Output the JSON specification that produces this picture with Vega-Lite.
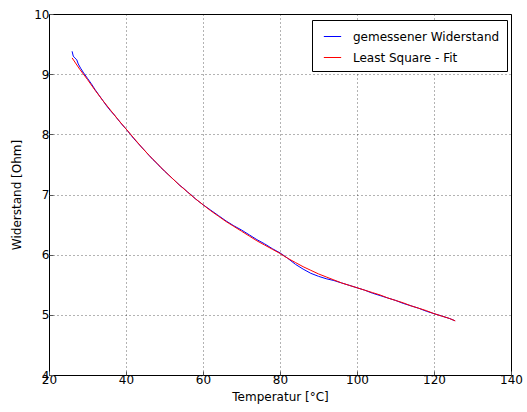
{
  "$schema": "https://vega.github.io/schema/vega-lite/v6.json",
  "autosize": {"type": "none"},
  "width": 462,
  "height": 361,
  "padding": {"left": 49, "top": 14, "right": 16, "bottom": 37},
  "background": "white",
  "config": {
    "font": "DejaVu Sans",
    "view": {"stroke": "black", "strokeWidth": 1},
    "axis": {
      "labelFont": "DejaVu Sans", "labelFontSize": 12, "labelColor": "black",
      "titleFont": "DejaVu Sans", "titleFontSize": 12, "titleFontWeight": "normal", "titleColor": "black",
      "grid": true, "gridColor": "black", "gridOpacity": 0.6, "gridDash": [1, 3], "gridWidth": 1,
      "domain": false, "ticks": true, "tickSize": -4, "tickColor": "#555", "labelPadding": 3,
      "labelFlush": false, "labelOverlap": false
    }
  },
  "data": {"values": [
    {"T": 26.0, "R": 9.38, "s": "gemessener Widerstand"},
    {"T": 26.3, "R": 9.30, "s": "gemessener Widerstand"},
    {"T": 26.7, "R": 9.27, "s": "gemessener Widerstand"},
    {"T": 27.2, "R": 9.24, "s": "gemessener Widerstand"},
    {"T": 27.6, "R": 9.17, "s": "gemessener Widerstand"},
    {"T": 28.2, "R": 9.10, "s": "gemessener Widerstand"},
    {"T": 29, "R": 9.02, "s": "gemessener Widerstand"},
    {"T": 30, "R": 8.93, "s": "gemessener Widerstand"},
    {"T": 31, "R": 8.84, "s": "gemessener Widerstand"},
    {"T": 32, "R": 8.74, "s": "gemessener Widerstand"},
    {"T": 33, "R": 8.65, "s": "gemessener Widerstand"},
    {"T": 34, "R": 8.56, "s": "gemessener Widerstand"},
    {"T": 35, "R": 8.47, "s": "gemessener Widerstand"},
    {"T": 36, "R": 8.39, "s": "gemessener Widerstand"},
    {"T": 37, "R": 8.32, "s": "gemessener Widerstand"},
    {"T": 38, "R": 8.24, "s": "gemessener Widerstand"},
    {"T": 39, "R": 8.16, "s": "gemessener Widerstand"},
    {"T": 40, "R": 8.09, "s": "gemessener Widerstand"},
    {"T": 41, "R": 8.01, "s": "gemessener Widerstand"},
    {"T": 42, "R": 7.93, "s": "gemessener Widerstand"},
    {"T": 43, "R": 7.86, "s": "gemessener Widerstand"},
    {"T": 44, "R": 7.79, "s": "gemessener Widerstand"},
    {"T": 45, "R": 7.72, "s": "gemessener Widerstand"},
    {"T": 46, "R": 7.65, "s": "gemessener Widerstand"},
    {"T": 47, "R": 7.58, "s": "gemessener Widerstand"},
    {"T": 48, "R": 7.52, "s": "gemessener Widerstand"},
    {"T": 49, "R": 7.45, "s": "gemessener Widerstand"},
    {"T": 50, "R": 7.39, "s": "gemessener Widerstand"},
    {"T": 51, "R": 7.33, "s": "gemessener Widerstand"},
    {"T": 52, "R": 7.27, "s": "gemessener Widerstand"},
    {"T": 53, "R": 7.21, "s": "gemessener Widerstand"},
    {"T": 54, "R": 7.15, "s": "gemessener Widerstand"},
    {"T": 55, "R": 7.10, "s": "gemessener Widerstand"},
    {"T": 56, "R": 7.04, "s": "gemessener Widerstand"},
    {"T": 57, "R": 6.99, "s": "gemessener Widerstand"},
    {"T": 58, "R": 6.93, "s": "gemessener Widerstand"},
    {"T": 59, "R": 6.88, "s": "gemessener Widerstand"},
    {"T": 60, "R": 6.83, "s": "gemessener Widerstand"},
    {"T": 62, "R": 6.74, "s": "gemessener Widerstand"},
    {"T": 64, "R": 6.65, "s": "gemessener Widerstand"},
    {"T": 66, "R": 6.56, "s": "gemessener Widerstand"},
    {"T": 68, "R": 6.48, "s": "gemessener Widerstand"},
    {"T": 70, "R": 6.41, "s": "gemessener Widerstand"},
    {"T": 72, "R": 6.33, "s": "gemessener Widerstand"},
    {"T": 74, "R": 6.25, "s": "gemessener Widerstand"},
    {"T": 76, "R": 6.18, "s": "gemessener Widerstand"},
    {"T": 78, "R": 6.10, "s": "gemessener Widerstand"},
    {"T": 80, "R": 6.03, "s": "gemessener Widerstand"},
    {"T": 82, "R": 5.94, "s": "gemessener Widerstand"},
    {"T": 84, "R": 5.84, "s": "gemessener Widerstand"},
    {"T": 86, "R": 5.76, "s": "gemessener Widerstand"},
    {"T": 88, "R": 5.69, "s": "gemessener Widerstand"},
    {"T": 90, "R": 5.64, "s": "gemessener Widerstand"},
    {"T": 92, "R": 5.60, "s": "gemessener Widerstand"},
    {"T": 94, "R": 5.57, "s": "gemessener Widerstand"},
    {"T": 96, "R": 5.53, "s": "gemessener Widerstand"},
    {"T": 98, "R": 5.49, "s": "gemessener Widerstand"},
    {"T": 100, "R": 5.45, "s": "gemessener Widerstand"},
    {"T": 102, "R": 5.41, "s": "gemessener Widerstand"},
    {"T": 104, "R": 5.36, "s": "gemessener Widerstand"},
    {"T": 106, "R": 5.32, "s": "gemessener Widerstand"},
    {"T": 108, "R": 5.28, "s": "gemessener Widerstand"},
    {"T": 110, "R": 5.24, "s": "gemessener Widerstand"},
    {"T": 112, "R": 5.19, "s": "gemessener Widerstand"},
    {"T": 114, "R": 5.15, "s": "gemessener Widerstand"},
    {"T": 116, "R": 5.11, "s": "gemessener Widerstand"},
    {"T": 118, "R": 5.06, "s": "gemessener Widerstand"},
    {"T": 120, "R": 5.02, "s": "gemessener Widerstand"},
    {"T": 122, "R": 4.98, "s": "gemessener Widerstand"},
    {"T": 124, "R": 4.94, "s": "gemessener Widerstand"},
    {"T": 125.5, "R": 4.90, "s": "gemessener Widerstand"},
    {"T": 26, "R": 9.27, "s": "Least Square - Fit"},
    {"T": 28, "R": 9.08, "s": "Least Square - Fit"},
    {"T": 30, "R": 8.91, "s": "Least Square - Fit"},
    {"T": 32, "R": 8.73, "s": "Least Square - Fit"},
    {"T": 34, "R": 8.56, "s": "Least Square - Fit"},
    {"T": 36, "R": 8.40, "s": "Least Square - Fit"},
    {"T": 38, "R": 8.24, "s": "Least Square - Fit"},
    {"T": 40, "R": 8.09, "s": "Least Square - Fit"},
    {"T": 42, "R": 7.94, "s": "Least Square - Fit"},
    {"T": 44, "R": 7.79, "s": "Least Square - Fit"},
    {"T": 46, "R": 7.65, "s": "Least Square - Fit"},
    {"T": 48, "R": 7.52, "s": "Least Square - Fit"},
    {"T": 50, "R": 7.39, "s": "Least Square - Fit"},
    {"T": 52, "R": 7.27, "s": "Least Square - Fit"},
    {"T": 54, "R": 7.15, "s": "Least Square - Fit"},
    {"T": 56, "R": 7.04, "s": "Least Square - Fit"},
    {"T": 58, "R": 6.93, "s": "Least Square - Fit"},
    {"T": 60, "R": 6.83, "s": "Least Square - Fit"},
    {"T": 62, "R": 6.73, "s": "Least Square - Fit"},
    {"T": 64, "R": 6.64, "s": "Least Square - Fit"},
    {"T": 66, "R": 6.55, "s": "Least Square - Fit"},
    {"T": 68, "R": 6.47, "s": "Least Square - Fit"},
    {"T": 70, "R": 6.39, "s": "Least Square - Fit"},
    {"T": 72, "R": 6.31, "s": "Least Square - Fit"},
    {"T": 74, "R": 6.23, "s": "Least Square - Fit"},
    {"T": 76, "R": 6.16, "s": "Least Square - Fit"},
    {"T": 78, "R": 6.09, "s": "Least Square - Fit"},
    {"T": 80, "R": 6.02, "s": "Least Square - Fit"},
    {"T": 82, "R": 5.94, "s": "Least Square - Fit"},
    {"T": 84, "R": 5.87, "s": "Least Square - Fit"},
    {"T": 86, "R": 5.80, "s": "Least Square - Fit"},
    {"T": 88, "R": 5.74, "s": "Least Square - Fit"},
    {"T": 90, "R": 5.68, "s": "Least Square - Fit"},
    {"T": 92, "R": 5.63, "s": "Least Square - Fit"},
    {"T": 94, "R": 5.58, "s": "Least Square - Fit"},
    {"T": 96, "R": 5.53, "s": "Least Square - Fit"},
    {"T": 98, "R": 5.49, "s": "Least Square - Fit"},
    {"T": 100, "R": 5.45, "s": "Least Square - Fit"},
    {"T": 102, "R": 5.41, "s": "Least Square - Fit"},
    {"T": 104, "R": 5.37, "s": "Least Square - Fit"},
    {"T": 106, "R": 5.33, "s": "Least Square - Fit"},
    {"T": 108, "R": 5.28, "s": "Least Square - Fit"},
    {"T": 110, "R": 5.24, "s": "Least Square - Fit"},
    {"T": 112, "R": 5.20, "s": "Least Square - Fit"},
    {"T": 114, "R": 5.15, "s": "Least Square - Fit"},
    {"T": 116, "R": 5.11, "s": "Least Square - Fit"},
    {"T": 118, "R": 5.07, "s": "Least Square - Fit"},
    {"T": 120, "R": 5.02, "s": "Least Square - Fit"},
    {"T": 122, "R": 4.98, "s": "Least Square - Fit"},
    {"T": 124, "R": 4.94, "s": "Least Square - Fit"},
    {"T": 125.5, "R": 4.90, "s": "Least Square - Fit"}
  ]},
  "mark": {"type": "line", "strokeWidth": 1},
  "encoding": {
    "x": {"field": "T", "type": "quantitative", "scale": {"domain": [20, 140], "nice": false, "zero": false},
      "axis": {"title": "Temperatur [°C]", "values": [20, 40, 60, 80, 100, 120, 140], "titlePadding": 6}},
    "y": {"field": "R", "type": "quantitative", "scale": {"domain": [4, 10], "nice": false, "zero": false},
      "axis": {"title": "Widerstand [Ohm]", "values": [4, 5, 6, 7, 8, 9, 10], "labelPadding": 4, "titlePadding": 10}},
    "color": {"field": "s", "type": "nominal",
      "scale": {"domain": ["gemessener Widerstand", "Least Square - Fit"], "range": ["#0000ff", "#ff0000"]},
      "legend": {"title": null, "orient": "none", "legendX": 263, "legendY": 6,
        "symbolType": "stroke", "symbolStrokeWidth": 1, "symbolSize": 300,
        "labelFont": "DejaVu Sans", "labelFontSize": 12, "labelColor": "black",
        "fillColor": "white", "strokeColor": "black", "padding": 7, "rowPadding": 5,
        "labelOffset": 11, "symbolOffset": 4}},
    "order": {"value": 0}
  }
}
